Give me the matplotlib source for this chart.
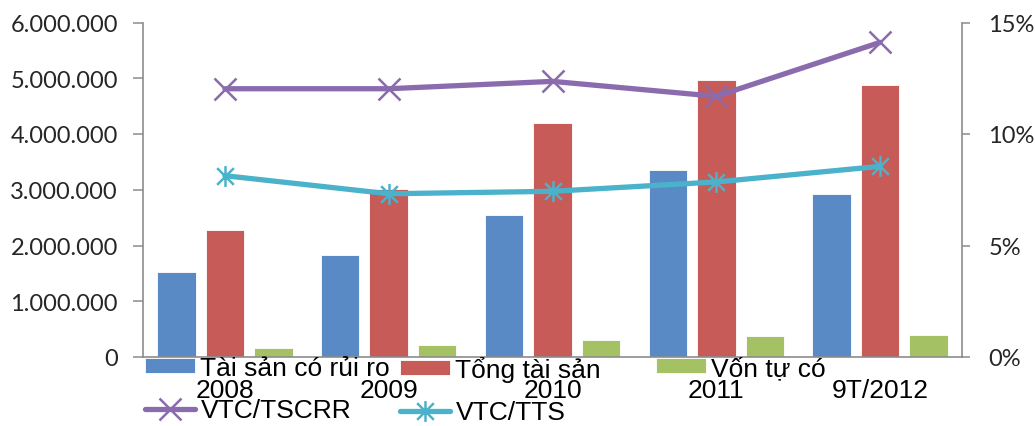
import matplotlib
matplotlib.use("Agg")
import matplotlib.pyplot as plt
import numpy as np
from matplotlib.path import Path
from matplotlib.ticker import FuncFormatter, FixedLocator

categories = ["2008", "2009", "2010", "2011", "9T/2012"]
tai_san_co_rui_ro = [1530000, 1830000, 2540000, 3350000, 2930000]
tong_tai_san = [2270000, 3010000, 4200000, 4960000, 4870000]
von_tu_co = [170000, 220000, 310000, 380000, 400000]
vtc_tscrr = [12.03, 12.03, 12.36, 11.69, 14.11]
vtc_tts = [8.13, 7.32, 7.43, 7.85, 8.55]
bar_labels = ["Tài sản có rủi ro", "Tổng tài sản", "Vốn tự có"]
line_labels = ["VTC/TSCRR", "VTC/TTS"]

plt.rcParams['font.family'] = ['Lato', 'DejaVu Sans']
FS = 17
FS2 = 19
ARIAL = ['Liberation Sans', 'DejaVu Sans']
TXT = '#262626'
SPINE = '#8c8c8c'

fig = plt.figure(figsize=(10.35, 4.27), dpi=100)
ax = fig.add_axes([143/1035, 69/427, 819/1035, 334.5/427])
ax2 = ax.twinx()

x = np.arange(len(categories))
w = 0.235
off = 0.296
cols = ['#5a8ac6', '#c65b57', '#a4c264']
b1 = ax.bar(x - off, tai_san_co_rui_ro, w, color=cols[0], edgecolor='white', linewidth=0.6, label=bar_labels[0])
b2 = ax.bar(x, tong_tai_san, w, color=cols[1], edgecolor='white', linewidth=0.6, label=bar_labels[1])
b3 = ax.bar(x + off, von_tu_co, w, color=cols[2], edgecolor='white', linewidth=0.6, label=bar_labels[2])

star = Path([(-1, -1), (1, 1), (-1, 1), (1, -1), (0, -1.25), (0, 1.25)],
            [Path.MOVETO, Path.LINETO, Path.MOVETO, Path.LINETO, Path.MOVETO, Path.LINETO])

l1, = ax2.plot(x, vtc_tscrr, color='#8a6bae', lw=3.8, marker='x', ms=16, mew=1.8,
               label=line_labels[0], solid_capstyle='round')
l2, = ax2.plot(x, vtc_tts, color='#4bb2cb', lw=3.8, marker=star, ms=15, mew=1.8,
               mfc='none', label=line_labels[1], solid_capstyle='round')

ax.set_xlim(-0.5, len(categories) - 0.5)
ax.set_ylim(0, 6000000)
ax2.set_ylim(0, 15)
ax.yaxis.set_major_locator(FixedLocator(np.arange(0, 6000001, 1000000)))
ax2.yaxis.set_major_locator(FixedLocator([0, 5, 10, 15]))
ax.yaxis.set_major_formatter(FuncFormatter(lambda v, p: f"{v:,.0f}".replace(',', '.')))
ax2.yaxis.set_major_formatter(FuncFormatter(lambda v, p: f"{v:.0f}%"))

ax.set_xticks(x)
ax.set_xticklabels(categories, fontfamily=ARIAL, fontsize=FS2, color='black')

for a in (ax, ax2):
    for s in a.spines.values():
        s.set_visible(False)
ax.spines['left'].set_visible(True)
ax.spines['bottom'].set_visible(True)
ax2.spines['right'].set_visible(True)
for s in (ax.spines['left'], ax.spines['bottom'], ax2.spines['right']):
    s.set_color(SPINE)
    s.set_linewidth(1.2)

ax.tick_params(axis='y', direction='out', length=7, width=1.1, color=SPINE,
               labelsize=FS, labelcolor=TXT, pad=11)
ax2.tick_params(axis='y', direction='out', length=6, width=1.1, color=SPINE,
                labelsize=FS, labelcolor=TXT, pad=13)
ax.tick_params(axis='x', length=0, pad=15)

ax.set_zorder(1)
ax2.set_zorder(2)
ax.patch.set_visible(False)

common = dict(frameon=False, prop={'family': ARIAL, 'size': FS2}, handlelength=1.9,
              handleheight=0.5, handletextpad=0.2, borderpad=0, borderaxespad=0,
              labelspacing=0.7, loc='upper left')
ytop = 1 - 357/427
leg1 = fig.legend([b1, l1], [bar_labels[0], line_labels[0]], bbox_to_anchor=(145/1035, ytop), **common)
leg2 = fig.legend([b2, l2], [bar_labels[1], line_labels[1]], bbox_to_anchor=(400/1035, ytop), **common)
leg3 = fig.legend([b3], [bar_labels[2]], bbox_to_anchor=(656/1035, ytop), **common)
for lg in (leg1, leg2, leg3):
    for t in lg.get_texts():
        t.set_color('black')

fig.savefig("out.png", dpi=100)
